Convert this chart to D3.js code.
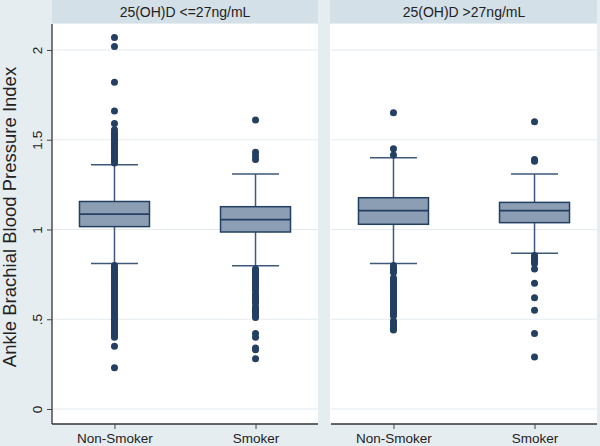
<!DOCTYPE html>
<html><head><meta charset="utf-8">
<script src="https://cdn.jsdelivr.net/npm/d3@7"></script>
<style>body{margin:0;background:#e6edf1;}svg{display:block;}</style>
</head><body>
<script>
const panels = ["25(OH)D <=27ng/mL", "25(OH)D >27ng/mL"];
const categories = ["Non-Smoker", "Smoker"];
const yTicks = [0, 0.5, 1, 1.5, 2];
const yTickLabels = ["0", ".5", "1", "1.5", "2"];
// per panel, per category
const q1 = [[1.016, 0.986], [1.029, 1.038]];
const med = [[1.086, 1.055], [1.105, 1.105]];
const q3 = [[1.156, 1.127], [1.177, 1.151]];
const whiskLo = [[0.81, 0.798], [0.81, 0.867]];
const whiskHi = [[1.361, 1.309], [1.40, 1.309]];
const outliers = [
  [
    [2.07, 2.02, 1.82, 1.66, 1.59, 1.555, 1.54, 1.53, 1.52, 1.51, 1.50, 1.49, 1.48, 1.47, 1.46, 1.45, 1.44, 1.43, 1.42, 1.41, 1.40, 1.39, 1.38, 1.37,
     0.80, 0.79, 0.78, 0.77, 0.76, 0.75, 0.74, 0.73, 0.72, 0.71, 0.70, 0.69, 0.68, 0.67, 0.66, 0.65, 0.64, 0.63, 0.62, 0.61, 0.60, 0.59, 0.58, 0.57, 0.56, 0.55, 0.54, 0.53, 0.52, 0.51, 0.50, 0.49, 0.48, 0.47, 0.46, 0.45, 0.44, 0.43, 0.42, 0.41, 0.40, 0.35, 0.23],
    [1.61, 1.43, 1.41, 1.39,
     0.78, 0.77, 0.76, 0.75, 0.74, 0.73, 0.72, 0.71, 0.70, 0.69, 0.68, 0.67, 0.66, 0.64, 0.63, 0.62, 0.61, 0.60, 0.59, 0.57, 0.56, 0.55, 0.54, 0.53, 0.52, 0.51, 0.42, 0.40, 0.34, 0.33, 0.28]
  ],
  [
    [1.65, 1.45, 1.415,
     0.80, 0.79, 0.78, 0.77, 0.76, 0.73, 0.72, 0.71, 0.70, 0.69, 0.68, 0.67, 0.66, 0.65, 0.64, 0.63, 0.62, 0.61, 0.60, 0.59, 0.58, 0.57, 0.56, 0.55, 0.54, 0.53, 0.52, 0.49, 0.48, 0.47, 0.46, 0.45, 0.44],
    [1.60, 1.39, 1.38,
     0.855, 0.84, 0.83, 0.82, 0.81, 0.78, 0.70, 0.62, 0.55, 0.42, 0.29]
  ]
];

const W = 600, H = 446;
const svg = d3.select("body").append("svg").attr("width", W).attr("height", H);
svg.append("rect").attr("width", W).attr("height", H).attr("fill", "#e6edf1");

const plotTop = 24, plotBottom = 424;
const y = d3.scaleLinear().domain([-0.0836, 2.1448]).range([plotBottom, plotTop]);
const panelX = [52, 331];
const panelW = 266;
const x = d3.scalePoint().domain(categories).range([0, panelW]).padding(0.443);

const boxFill = "#8b9eb3", dark = "#233f62", lineCol = "#3d5878";
const boxW = 70, capW = 47;
const font = "Liberation Sans, Arial, sans-serif";

panels.forEach((p, pi) => {
  const g = svg.append("g").attr("transform", `translate(${panelX[pi]},0)`);
  const x0 = pi === 0 ? 0 : -1, w = panelW + (pi === 0 ? 0 : 1);
  g.append("rect").attr("x", x0).attr("y", 0).attr("width", w).attr("height", plotTop - 1)
    .attr("fill", "#d4e0e7");
  g.append("text").attr("x", panelW / 2).attr("y", 17).attr("text-anchor", "middle")
    .attr("font-family", font).attr("font-size", 14).attr("fill", "#222")
    .text(p);
  g.append("rect").attr("x", x0).attr("y", plotTop).attr("width", w).attr("height", plotBottom - plotTop).attr("fill", "#fff");
  g.selectAll(".grid").data(yTicks).enter().append("line")
    .attr("x1", 0).attr("x2", panelW).attr("y1", d => y(d)).attr("y2", d => y(d))
    .attr("stroke", "#e4ebef").attr("stroke-width", 1.2);

  categories.forEach((c, ci) => {
    const cx = x(c);
    g.append("line").attr("x1", cx).attr("x2", cx).attr("y1", y(q3[pi][ci])).attr("y2", y(whiskHi[pi][ci]))
      .attr("stroke", lineCol).attr("stroke-width", 1.5);
    g.append("line").attr("x1", cx).attr("x2", cx).attr("y1", y(q1[pi][ci])).attr("y2", y(whiskLo[pi][ci]))
      .attr("stroke", lineCol).attr("stroke-width", 1.5);
    [whiskHi[pi][ci], whiskLo[pi][ci]].forEach(v => {
      g.append("line").attr("x1", cx - capW / 2).attr("x2", cx + capW / 2).attr("y1", y(v)).attr("y2", y(v))
        .attr("stroke", lineCol).attr("stroke-width", 1.5);
    });
    g.append("rect").attr("x", cx - boxW / 2).attr("width", boxW)
      .attr("y", y(q3[pi][ci])).attr("height", y(q1[pi][ci]) - y(q3[pi][ci]))
      .attr("fill", boxFill).attr("stroke", dark).attr("stroke-width", 1.5);
    g.append("line").attr("x1", cx - boxW / 2).attr("x2", cx + boxW / 2)
      .attr("y1", y(med[pi][ci])).attr("y2", y(med[pi][ci]))
      .attr("stroke", dark).attr("stroke-width", 1.8);
    g.selectAll(null).data(outliers[pi][ci]).enter().append("circle")
      .attr("cx", cx).attr("cy", d => y(d)).attr("r", 3.5).attr("fill", dark);
  });

  const xa = g.append("g").attr("transform", `translate(0,${plotBottom})`)
    .call(d3.axisBottom(x).tickSize(5).tickPadding(4));
  xa.select(".domain").attr("stroke", "#333").attr("stroke-width", 1.3).attr("d", `M0,0H${panelW}`);
  xa.selectAll(".tick line").attr("stroke", "#444");
  xa.selectAll("text").attr("font-family", font).attr("font-size", 13.5).attr("fill", "#222");

  if (pi === 0) {
    const ya = g.append("g").call(d3.axisLeft(y).tickValues(yTicks).tickFormat((d, i) => yTickLabels[i]).tickSize(5).tickPadding(0));
    ya.select(".domain").attr("stroke", "#333").attr("stroke-width", 1.3).attr("d", `M0,${plotTop}V${plotBottom}`);
    ya.selectAll(".tick line").attr("stroke", "#444");
    ya.selectAll("text").attr("font-family", font).attr("font-size", 13.5).attr("fill", "#222")
      .attr("transform", "rotate(-90)").attr("x", 0).attr("y", -10).attr("dy", 0).attr("text-anchor", "middle");
  }
});

svg.append("text").attr("transform", `translate(16,217) rotate(-90)`)
  .attr("text-anchor", "middle").attr("font-family", font).attr("font-size", 18.5).attr("fill", "#222")
  .text("Ankle Brachial Blood Pressure Index");
</script>
</body></html>
